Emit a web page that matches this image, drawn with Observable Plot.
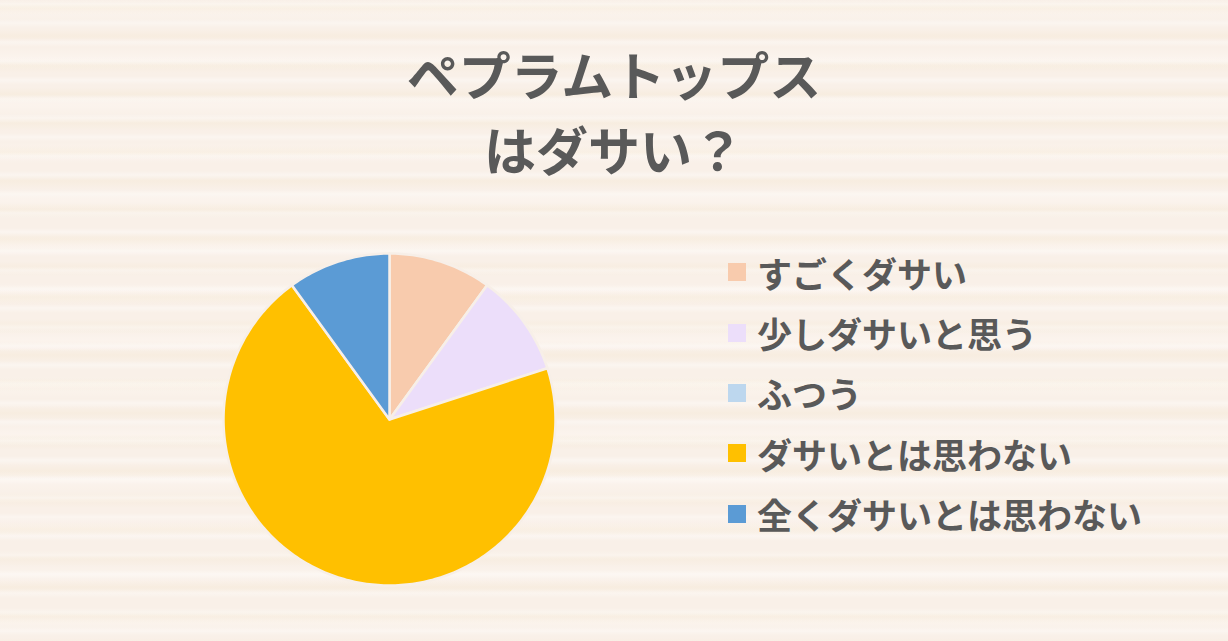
<!DOCTYPE html>
<html>
<head>
<meta charset="utf-8">
<script src="https://cdn.jsdelivr.net/npm/d3@7"></script>
<script src="https://cdn.jsdelivr.net/npm/@observablehq/plot@0.6"></script>
<style>
  html, body { margin: 0; padding: 0; }
  #wrap {
    position: relative; width: 1228px; height: 641px; overflow: hidden;
    font-family: "Noto Sans CJK JP", sans-serif; color: #595959;
    background-color: #f9f0e8;
    background-image:
      repeating-linear-gradient(180deg, rgba(255,255,255,0) 0px, rgba(255,255,255,0.35) 4px, rgba(255,255,255,0) 9px, rgba(255,255,255,0) 19px),
      repeating-linear-gradient(180deg, rgba(242,226,196,0) 0px, rgba(242,226,196,0.22) 7px, rgba(242,226,196,0) 15px, rgba(242,226,196,0) 29px),
      repeating-linear-gradient(180deg, rgba(255,250,246,0) 0px, rgba(255,250,246,0.35) 11px, rgba(255,250,246,0) 23px, rgba(255,250,246,0) 47px);
  }
  #title {
    height: 200px; box-sizing: border-box; padding-top: 36px;
    text-align: center; font-size: 52px; line-height: 75px; font-weight: 700;
  }
  #legend { position: absolute; left: 728px; top: 242px; }
  .row { display: flex; align-items: center; height: 60.4px; }
  .sw { width: 18px; height: 18px; margin-right: 11px; flex: none; }
  .lab { font-size: 35px; font-weight: 700; white-space: nowrap; line-height: 1; }
</style>
</head>
<body>
<div id="wrap">
  <div id="title"></div>
  <div id="chart"></div>
  <div id="legend"></div>
</div>
<script>
const titleLines = ["ペプラムトップス", "はダサい？"];
const categories = ["すごくダサい", "少しダサいと思う", "ふつう", "ダサいとは思わない", "全くダサいとは思わない"];
const values = [10, 10, 0, 70, 10];
const colors = ["#f8cbad", "#ecdefa", "#bdd7ee", "#ffc000", "#5b9bd5"];

document.getElementById("title").innerHTML = titleLines.map(t => `<div>${t}</div>`).join("");

// Build slice polygons (angles clockwise from 12 o'clock) from the values
const total = d3.sum(values);
let acc = 0;
const slices = categories.map((c, i) => {
  const a0 = acc / total * 2 * Math.PI;
  acc += values[i];
  const a1 = acc / total * 2 * Math.PI;
  return {category: c, value: values[i], a0, a1};
}).filter(d => d.value > 0);

const features = slices.map(s => {
  const n = Math.max(2, Math.ceil((s.a1 - s.a0) / (Math.PI / 180)));
  const ring = [[0, 0]];
  for (let k = 0; k <= n; ++k) {
    const a = s.a0 + (s.a1 - s.a0) * k / n;
    ring.push([Math.sin(a), -Math.cos(a)]);
  }
  ring.push([0, 0]);
  return {type: "Feature", properties: {category: s.category}, geometry: {type: "Polygon", coordinates: [ring]}};
});

const square = {type: "Polygon", coordinates: [[[-1, -1], [1, -1], [1, 1], [-1, 1], [-1, -1]]]};

const plot = Plot.plot({
  width: 1228,
  height: 441,
  marginLeft: 223,
  marginRight: 673,
  marginTop: 53,
  marginBottom: 56,
  projection: {type: "identity", domain: square},
  color: {domain: categories, range: colors},
  style: {background: "transparent", overflow: "visible"},
  marks: [
    Plot.geo(features, {fill: d => d.properties.category, stroke: "#f7efe8", strokeWidth: 2.5, strokeLinejoin: "round"})
  ]
});
document.getElementById("chart").appendChild(plot);

document.getElementById("legend").innerHTML = categories.map((c, i) =>
  `<div class="row"><div class="sw" style="background:${colors[i]}"></div><div class="lab">${c}</div></div>`
).join("");
</script>
</body>
</html>
